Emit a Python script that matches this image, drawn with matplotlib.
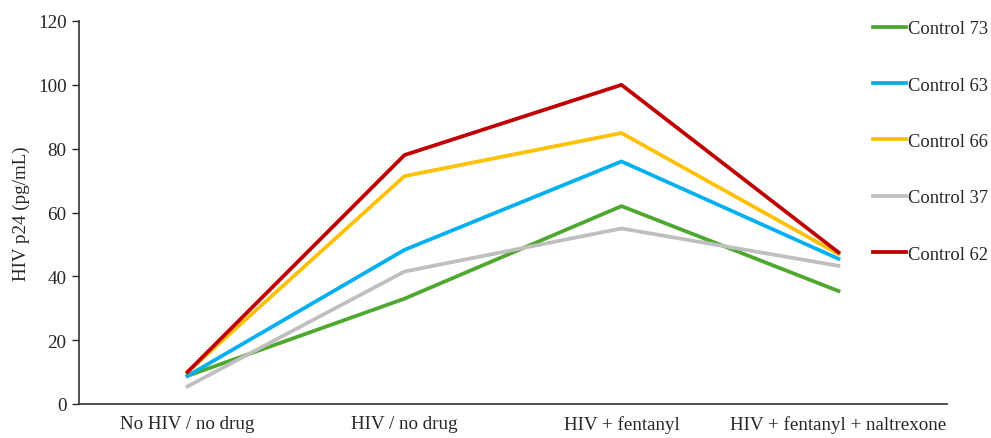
import matplotlib
matplotlib.use("Agg")
import matplotlib.pyplot as plt

# ── Data ─────────────────────────────────────────────────────────────────────
categories = ["No HIV / no drug", "HIV / no drug", "HIV + fentanyl",
              "HIV + fentanyl + naltrexone"]
series_names = ["Control 73", "Control 63", "Control 66", "Control 37", "Control 62"]
control_73 = [8.8, 33.0, 62.0, 35.4]
control_63 = [8.8, 48.3, 76.0, 45.5]
control_66 = [10.0, 71.4, 84.9, 47.0]
control_37 = [5.5, 41.5, 55.0, 43.3]
control_62 = [10.0, 78.0, 100.0, 47.5]
series_values = [control_73, control_63, control_66, control_37, control_62]

colors = ["#4EA72E", "#00B0F0", "#FFC000", "#BFBFBF", "#C00000"]

plt.rcParams["font.family"] = ["Liberation Serif", "DejaVu Serif"]
FS = 13.7
TXT = "#262626"

fig = plt.figure(figsize=(9.91, 4.39), dpi=100)
ax = fig.add_axes([79 / 991, 1 - 405 / 439, (947 - 79) / 991, (405 - 22) / 439])

x = range(len(categories))
for name, vals, c in zip(series_names, series_values, colors):
    ax.plot(x, vals, color=c, lw=2.7, label=name)

ax.set_xlim(-0.5, len(categories) - 0.5)
ax.set_ylim(0, 120)
ax.set_yticks(range(0, 121, 20))
ax.set_xticks(list(x))
ax.set_xticklabels(categories, fontsize=FS, color=TXT)
ax.tick_params(axis="x", length=0, pad=8)
ax.tick_params(axis="y", length=5, width=1, labelsize=FS, colors=TXT, pad=4)
ax.set_ylabel("HIV p24 (pg/mL)", fontsize=FS, color=TXT, labelpad=6)

for s in ["top", "right"]:
    ax.spines[s].set_visible(False)
for s in ["left", "bottom"]:
    ax.spines[s].set_color("#333333")
    ax.spines[s].set_linewidth(1.2)

leg = fig.legend(loc="upper left", bbox_to_anchor=(864 / 991, 1 - 12 / 439),
                 frameon=False, fontsize=13.3, labelspacing=2.13,
                 handlelength=1.75, handletextpad=0.15, borderpad=0)
for t in leg.get_texts():
    t.set_color(TXT)

fig.savefig("out.png", dpi=100, facecolor="white")
